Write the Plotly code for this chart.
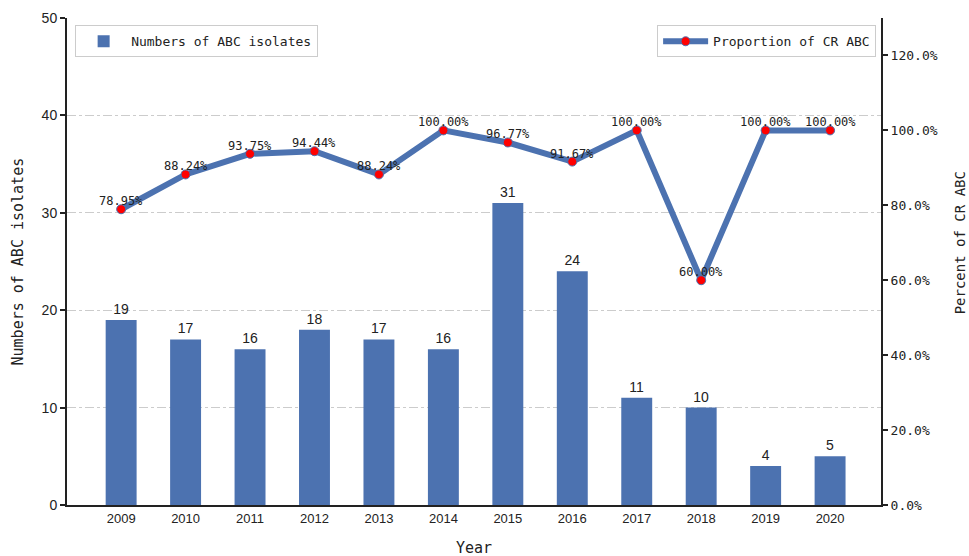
import plotly.graph_objects as go

years = ["2009", "2010", "2011", "2012", "2013", "2014", "2015", "2016", "2017", "2018", "2019", "2020"]
isolates = [19, 17, 16, 18, 17, 16, 31, 24, 11, 10, 4, 5]
cr_percent = [78.95, 88.24, 93.75, 94.44, 88.24, 100.00, 96.77, 91.67, 100.00, 60.00, 100.00, 100.00]

x = list(range(len(years)))
blue = "#4C72B0"
mono = "DejaVu Sans Mono"
sans = "Liberation Sans"
ink = "#222"

fig = go.Figure()
fig.add_trace(go.Bar(
    x=x, y=isolates, name="Numbers of ABC isolates",
    marker=dict(color=blue, line=dict(width=0)), width=0.48,
    text=[str(v) for v in isolates], textposition="outside",
    textfont=dict(family=sans, size=14, color=ink),
    cliponaxis=False, legend="legend",
))
fig.add_trace(go.Scatter(
    x=x, y=cr_percent, name="Proportion of CR ABC", yaxis="y2",
    mode="lines+markers",
    line=dict(color=blue, width=6),
    marker=dict(color="red", size=9, line=dict(color=blue, width=1)),
    cliponaxis=False, legend="legend2",
))

annotations = []
for xi, v in zip(x, cr_percent):
    annotations.append(dict(
        x=xi, y=v, xref="x", yref="y2", text=f"{v:.2f}%", showarrow=False,
        yshift=8, font=dict(family=mono, size=12, color=ink),
    ))
annotations += [
    dict(x=-0.0602, y=0.5, xref="paper", yref="paper", text="Numbers of ABC isolates",
         xanchor="center", yanchor="middle",
         textangle=-90, showarrow=False, font=dict(family=mono, size=15, color=ink)),
    dict(x=1.0975, y=0.538, xref="paper", yref="paper", text="Percent of CR ABC",
         xanchor="center", yanchor="middle",
         textangle=-90, showarrow=False, font=dict(family=mono, size=14, color=ink)),
    dict(x=0.5, y=-0.088, xref="paper", yref="paper", text="Year",
         xanchor="center", yanchor="middle",
         showarrow=False, font=dict(family=mono, size=15, color=ink)),
]

fig.update_layout(
    width=969, height=556,
    margin=dict(l=67, r=88, t=18, b=51),
    plot_bgcolor="white", paper_bgcolor="white",
    annotations=annotations,
    xaxis=dict(
        range=[-0.84, 11.79], tickvals=x, ticktext=years, automargin=False,
        showline=True, linecolor=ink, linewidth=2,
        ticks="", tickfont=dict(family=sans, size=13, color=ink),
        showgrid=False, zeroline=False,
    ),
    yaxis=dict(
        range=[0, 50], tickvals=[0, 10, 20, 30, 40, 50], automargin=False,
        showline=True, linecolor=ink, linewidth=2,
        ticks="outside", ticklen=5, tickwidth=1.5, tickcolor=ink,
        tickfont=dict(family=sans, size=14, color=ink),
        showgrid=True, gridcolor="#cccccc", griddash="dashdot", gridwidth=1,
        zeroline=False,
    ),
    yaxis2=dict(
        range=[0, 130], overlaying="y", side="right", automargin=False,
        tickvals=[0, 20, 40, 60, 80, 100, 120],
        ticktext=["0.0%", "20.0%", "40.0%", "60.0%", "80.0%", "100.0%", "120.0%"],
        showline=True, linecolor=ink, linewidth=2,
        ticks="outside", ticklen=5, tickwidth=1.5, tickcolor=ink,
        tickfont=dict(family=mono, size=13, color=ink),
        showgrid=False, zeroline=False,
    ),
    legend=dict(
        x=0.01, y=0.985, xanchor="left", yanchor="top",
        bgcolor="white", bordercolor="#cccccc", borderwidth=1,
        font=dict(family=mono, size=13, color=ink), itemwidth=45,
    ),
    legend2=dict(
        x=0.994, y=0.985, xanchor="right", yanchor="top",
        bgcolor="white", bordercolor="#cccccc", borderwidth=1,
        font=dict(family=mono, size=13, color=ink), itemwidth=45,
    ),
    showlegend=True,
)

fig.write_html(
    "out.html",
    config={"displayModeBar": False},
    post_script="document.body.style.margin='0';document.body.style.overflow='hidden';",
)
